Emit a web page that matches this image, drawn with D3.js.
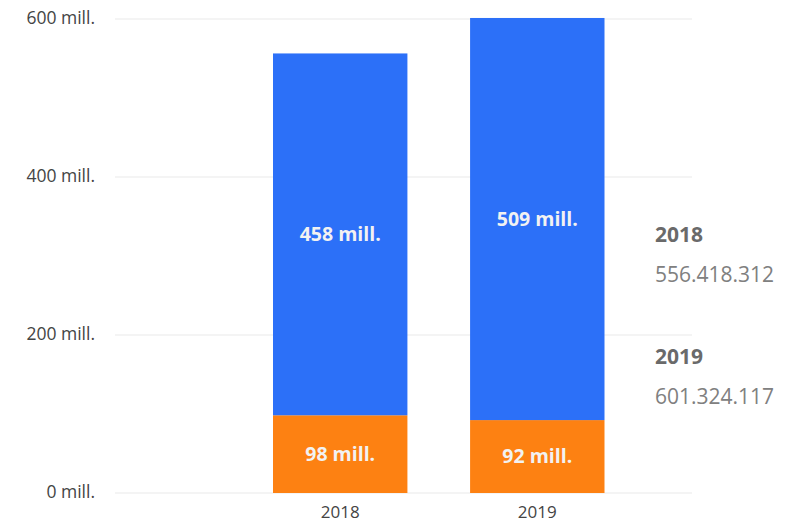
<!DOCTYPE html>
<html>
<head>
<meta charset="utf-8">
<script src="https://cdn.jsdelivr.net/npm/d3@7"></script>
<style>
  body { margin: 0; background: #fff; }
  svg text { font-family: "Segoe UI", "Open Sans", "DejaVu Sans", sans-serif; }
</style>
</head>
<body>
<svg></svg>
<script>
// chart data
var years = ["2018", "2019"];
var orangeValues = [98.4, 92.3];     // mill.
var blueValues = [458.0, 509.0];     // mill.
var totals = ["556.418.312", "601.324.117"];
var yTicks = [0, 200, 400, 600];

var svgWidth = 796, svgHeight = 523;
var margin = { top: 19, right: 104, bottom: 30, left: 115 };
var width = svgWidth - margin.left - margin.right;
var height = svgHeight - margin.top - margin.bottom;

var svg = d3.select("svg")
    .attr("width", svgWidth)
    .attr("height", svgHeight);

var g = svg.append("g")
    .attr("transform", "translate(" + margin.left + "," + margin.top + ")");

var y = d3.scaleLinear().domain([0, 600]).range([height, 0]);
var x = d3.scaleBand().domain(years).range([158, 489.5]).paddingInner(0.318).paddingOuter(0);

// gridlines + y labels
g.append("g")
    .selectAll("line")
    .data(yTicks)
    .enter()
    .append("line")
    .attr("x1", 0)
    .attr("x2", width)
    .attr("y1", d => y(d))
    .attr("y2", d => y(d))
    .attr("stroke", "#e9e9e9")
    .attr("stroke-width", 1);

g.append("g")
    .selectAll("text")
    .data(yTicks)
    .enter()
    .append("text")
    .attr("x", -20)
    .attr("y", d => y(d))
    .attr("dy", "0.3em")
    .attr("text-anchor", "end")
    .attr("font-size", 17.5)
    .attr("fill", "#444")
    .text(d => d + " mill.");

// stacked bars
var bars = years.map(function (yr, i) {
    return { year: yr, orange: orangeValues[i], blue: blueValues[i] };
});

var bw = x.bandwidth();

g.append("g").selectAll("rect")
    .data(bars)
    .enter()
    .append("rect")
    .attr("x", d => x(d.year))
    .attr("width", bw)
    .attr("y", d => y(d.orange))
    .attr("height", d => y(0) - y(d.orange))
    .attr("fill", "#fd8112");

g.append("g").selectAll("rect")
    .data(bars)
    .enter()
    .append("rect")
    .attr("x", d => x(d.year))
    .attr("width", bw)
    .attr("y", d => y(d.orange + d.blue))
    .attr("height", d => y(d.orange) - y(d.orange + d.blue))
    .attr("fill", "#2c70f8");

// labels inside bars
var lab = g.append("g")
    .attr("font-size", 19.5)
    .attr("font-weight", "bold")
    .attr("fill", "#f2f2f2")
    .attr("text-anchor", "middle");

lab.selectAll(".lo")
    .data(bars)
    .enter()
    .append("text")
    .attr("x", d => x(d.year) + bw / 2)
    .attr("y", d => y(d.orange / 2))
    .attr("dy", "0.35em")
    .text(d => Math.round(d.orange) + " mill.");

lab.selectAll(".lb")
    .data(bars)
    .enter()
    .append("text")
    .attr("x", d => x(d.year) + bw / 2)
    .attr("y", d => y(d.orange + d.blue / 2))
    .attr("dy", "0.35em")
    .text(d => Math.round(d.blue) + " mill.");

// x axis labels
g.append("g").selectAll("text")
    .data(bars)
    .enter()
    .append("text")
    .attr("x", d => x(d.year) + bw / 2)
    .attr("y", height + 19)
    .attr("dy", "0.35em")
    .attr("text-anchor", "middle")
    .attr("font-size", 17)
    .attr("fill", "#444")
    .text(d => d.year);

// right side totals
var leg = svg.append("g").attr("transform", "translate(655,0)");
years.forEach(function (yr, i) {
    var top = 235 + i * 122;
    leg.append("text")
        .attr("x", 0)
        .attr("y", top)
        .attr("dy", "0.35em")
        .attr("font-size", 21)
        .attr("font-weight", "bold")
        .attr("fill", "#6a6a6a")
        .text(yr);
    leg.append("text")
        .attr("x", 0)
        .attr("y", top + 40)
        .attr("dy", "0.35em")
        .attr("font-size", 21)
        .attr("fill", "#808080")
        .text(totals[i]);
});
</script>
</body>
</html>
